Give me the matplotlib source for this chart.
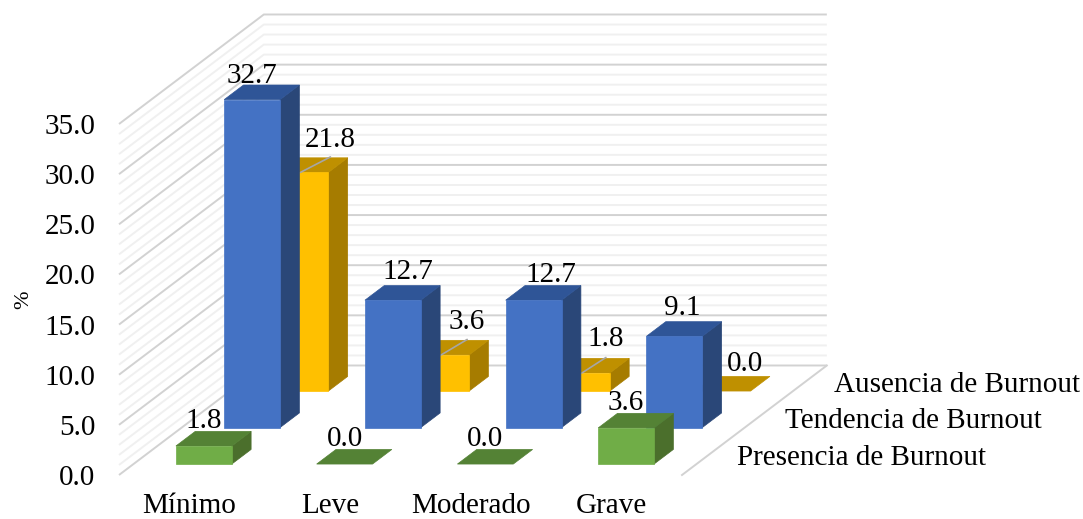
import matplotlib
matplotlib.use('Agg')
import matplotlib.pyplot as plt
from matplotlib.patches import Polygon

plt.rcParams['font.family'] = ['Liberation Serif', 'DejaVu Serif']

categorias = ['Mínimo', 'Leve', 'Moderado', 'Grave']
series = ['Presencia de Burnout', 'Tendencia de Burnout', 'Ausencia de Burnout']
presencia = [1.8, 0.0, 0.0, 3.6]
tendencia = [32.7, 12.7, 12.7, 9.1]
ausencia = [21.8, 3.6, 1.8, 0.0]
valores = [presencia, tendencia, ausencia]
yticks = [0, 5, 10, 15, 20, 25, 30, 35]

# colores por serie: frente, tapa, lateral
colores = [('#70AD47', '#548235', '#4B6F2C'),
           ('#4472C4', '#2F5597', '#2A4778'),
           ('#FFC000', '#BF9000', '#A67C00')]

# desplazamiento de etiquetas en pixeles respecto al centro frontal de la tapa
offsets = [[(0, 18), (0, 18), (0, 18), (0, 18)],
           [(0, 17), (15, 21), (17, 18), (8, 21)],
           [(30, 25), (26, 26), (24, 27), (22, 20)]]

ANCHO = 0.397
FONDO = 0.4
# una unidad de profundidad en unidades de datos del eje
DX = 0.343
DZ = 3.64
N_SERIES = 3

fig = plt.figure(figsize=(10.83, 5.19), dpi=100)
ax = fig.add_axes([119 / 1083, 1 - 475 / 519, 563 / 1083, 351 / 519])
ax.set_xlim(0, 4)
ax.set_ylim(0, 35)
for s in ax.spines.values():
    s.set_visible(False)


# proyeccion oblicua: x categoria, d profundidad, z valor
def proy(x, d, z):
    return (x + DX * d, z + DZ * d)


def cara(puntos, color, zorder):
    p = Polygon([proy(*q) for q in puntos], closed=True, facecolor=color,
                edgecolor=color, linewidth=0.5, clip_on=False, zorder=zorder)
    ax.add_patch(p)


# paredes con lineas cada unidad
for z in range(0, 36):
    mayor = z % 5 == 0
    col = '#D2D2D2' if mayor else '#F0F0F0'
    xs, ys = zip(proy(0, 0, z), proy(0, N_SERIES, z), proy(4, N_SERIES, z))
    ax.plot(xs, ys, color=col, lw=1.4, clip_on=False, zorder=1 if not mayor else 2,
            solid_capstyle='butt')

# borde derecho del piso
xs, ys = zip(proy(4, 0, 0), proy(4, N_SERIES, 0))
ax.plot(xs, ys, color='#D2D2D2', lw=1.4, clip_on=False, zorder=2)

# barras, de atras hacia adelante
for s in range(N_SERIES - 1, -1, -1):
    frente, tapa, lateral = colores[s]
    zo = 10 + (N_SERIES - s) * 3
    d0 = s + 0.5 - FONDO / 2
    d1 = s + 0.5 + FONDO / 2
    for i, v in enumerate(valores[s]):
        x0 = i + 0.5 - ANCHO / 2
        x1 = i + 0.5 + ANCHO / 2
        if v > 0:
            cara([(x1, d0, 0), (x1, d1, 0), (x1, d1, v), (x1, d0, v)], lateral, zo)
            cara([(x0, d0, 0), (x1, d0, 0), (x1, d0, v), (x0, d0, v)], frente, zo + 1)
        cara([(x0, d0, v), (x1, d0, v), (x1, d1, v), (x0, d1, v)], tapa, zo)

        ancla = proy(i + 0.5, d0, v)
        dx, dy = offsets[s][i]
        ax.annotate(f'{v:.1f}', xy=ancla, xytext=(dx, dy), textcoords='offset pixels',
                    ha='center', va='baseline', fontsize=21, color='black',
                    annotation_clip=False, zorder=40)
        # linea guia de las etiquetas movidas
        if s == 2 and v > 0:
            ax.annotate('', xy=ancla, xytext=(dx, 15.5), textcoords='offset pixels',
                        arrowprops=dict(arrowstyle='-', color='#A6A6A6', lw=1.2,
                                        shrinkA=0, shrinkB=0),
                        annotation_clip=False, zorder=zo + 2)

# nombres de las series sobre el eje de profundidad
for s, nombre in enumerate(series):
    ax.annotate(nombre, xy=proy(4, s + 0.5, 0), xytext=(31, -1), textcoords='offset pixels',
                ha='left', va='center', fontsize=21, color='black',
                annotation_clip=False)

ax.set_yticks(yticks)
ax.set_yticklabels([f'{t:.1f}' for t in yticks], fontsize=21)
ax.set_xticks([i + 0.5 for i in range(len(categorias))])
ax.set_xticklabels(categorias, fontsize=21)
ax.tick_params(axis='y', length=0, pad=17)
ax.tick_params(axis='x', length=0, pad=13)
ax.set_ylabel('%', fontsize=16)
ax.yaxis.set_label_coords(-86 / 563, 0.5)

fig.savefig('out.png', dpi=100)
